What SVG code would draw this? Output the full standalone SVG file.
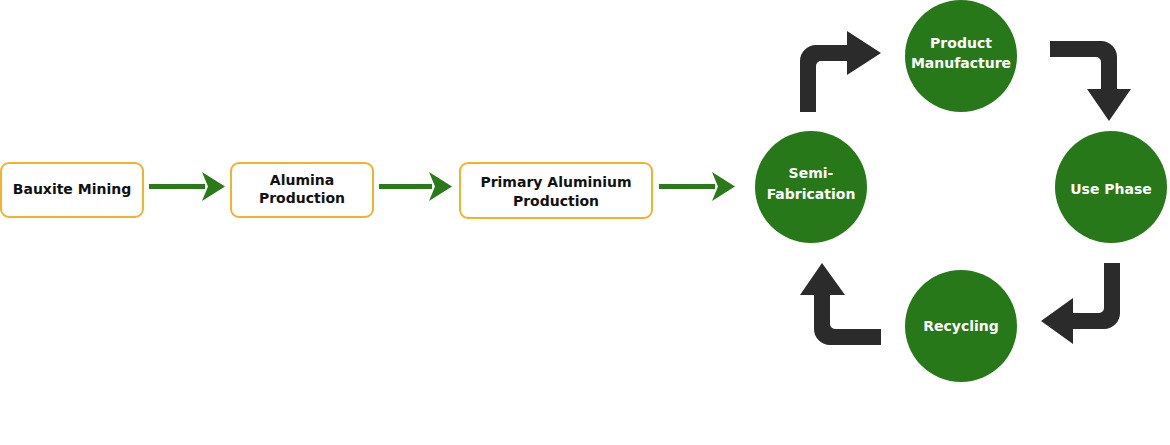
<svg xmlns="http://www.w3.org/2000/svg" width="1170" height="445" viewBox="0 0 1170 445">
<style>
.box{fill:#fff;stroke:#F2B22A;stroke-width:2}
.bt{font-family:"DejaVu Sans",Verdana,sans-serif;font-weight:bold;font-size:14px;fill:#111;text-anchor:middle}
.circ{fill:#267818}
.ct{font-family:"DejaVu Sans",Verdana,sans-serif;font-weight:bold;font-size:14px;fill:#fff;text-anchor:middle}
.ga{stroke:#2A7A1A;stroke-width:5;fill:none}
.da{fill:#2B2B2B}
</style>
<defs>
<marker id="gh" viewBox="0 0 23 29" markerWidth="23" markerHeight="29" markerUnits="userSpaceOnUse" refX="3" refY="14.5" orient="auto">
<path d="M0,0 L23,14.5 L0,29 L6,14.5 Z" fill="#2A7A1A"/>
</marker>
</defs>
<rect width="1170" height="445" fill="#fff"/>
<g id="bauxite">
<rect class="box" x="1" y="163" width="142" height="54" rx="8"/>
<text class="bt" x="72" y="194">Bauxite Mining</text>
</g>
<g id="alumina">
<rect class="box" x="231" y="163" width="142" height="54" rx="8"/>
<text class="bt" x="302" y="185">Alumina</text>
<text class="bt" x="302" y="203">Production</text>
</g>
<g id="primary">
<rect class="box" x="460" y="163" width="192" height="55" rx="8"/>
<text class="bt" x="556" y="187">Primary Aluminium</text>
<text class="bt" x="556" y="206">Production</text>
</g>
<g id="semi">
<circle class="circ" cx="811" cy="187" r="56"/>
<text class="ct" x="811" y="178">Semi-</text>
<text class="ct" x="811" y="199">Fabrication</text>
</g>
<g id="product">
<circle class="circ" cx="961" cy="56" r="56"/>
<text class="ct" x="961" y="48">Product</text>
<text class="ct" x="961" y="68">Manufacture</text>
</g>
<g id="use">
<circle class="circ" cx="1111" cy="187" r="56"/>
<text class="ct" x="1111" y="194">Use Phase</text>
</g>
<g id="recycling">
<circle class="circ" cx="961" cy="326" r="56"/>
<text class="ct" x="961" y="331">Recycling</text>
</g>
<g id="connectors">
<line class="ga" x1="149" y1="186.5" x2="205" y2="186.5" marker-end="url(#gh)"/>
<line class="ga" x1="379" y1="186.5" x2="432" y2="186.5" marker-end="url(#gh)"/>
<line class="ga" x1="659" y1="186.5" x2="715" y2="186.5" marker-end="url(#gh)"/>
<path class="da" d="M800,112 V61 A16,16 0 0 1 816,45 H847 V31 L881,53 L847,75 V61 H821 A5,5 0 0 0 816,66 V112 Z"/>
<path class="da" d="M1050,41 H1101 A16,16 0 0 1 1117,57 V89 H1131 L1109,121 L1087,89 H1101 V62 A5,5 0 0 0 1096,57 H1050 Z"/>
<path class="da" d="M1104,263 H1120 V313 A16,16 0 0 1 1104,329 H1073 V344 L1041,321 L1073,298 V313 H1099 A5,5 0 0 0 1104,308 Z"/>
<path class="da" d="M881,329 V345 H830 A16,16 0 0 1 814,329 V295 H800 L822,263 L845,295 H830 V324 A5,5 0 0 0 835,329 Z"/>
</g>
</svg>
